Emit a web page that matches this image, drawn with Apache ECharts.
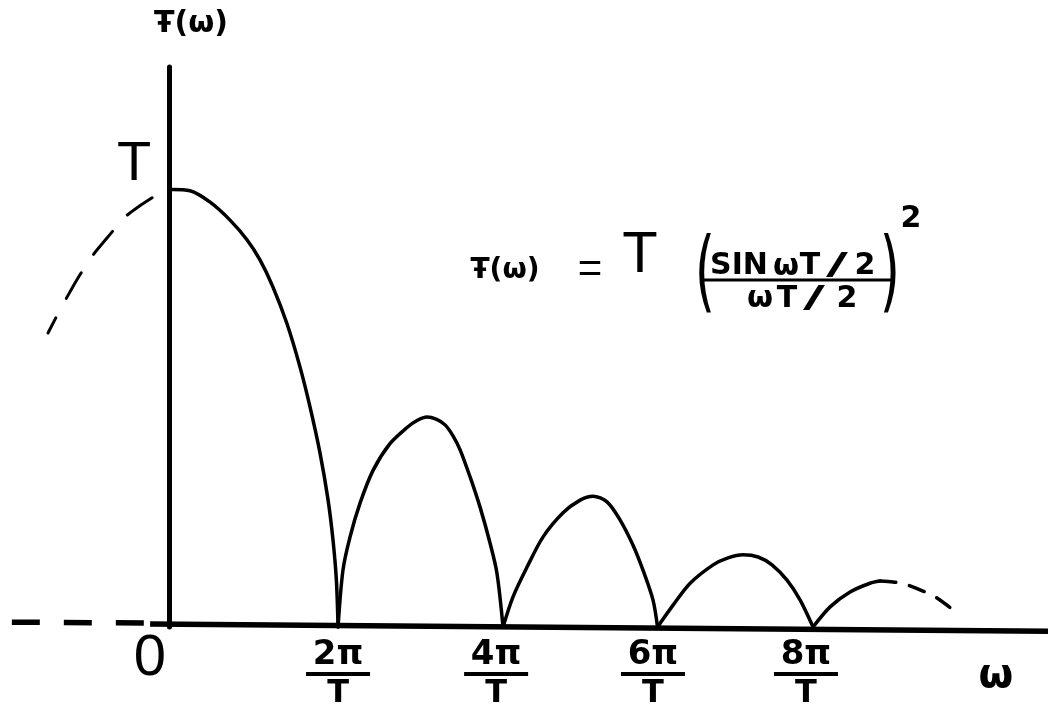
<!DOCTYPE html>
<html>
<head>
<meta charset="utf-8">
<script src="https://cdn.jsdelivr.net/npm/echarts@6/dist/echarts.min.js"></script>
<style>
html,body{margin:0;padding:0;background:#fff;}
#c{width:1048px;height:714px;}
</style>
</head>
<body>
<div id="c"></div>
<script>
// ω in units of 2π/T (as drawn), F(ω) in units of T (as drawn)
const leftDashed = [[-0.10,0.981],[-0.183,0.96],[-0.26,0.937],[-0.367,0.889],[-0.45,0.85],[-0.527,0.805],[-0.586,0.766],[-0.645,0.725],[-0.716,0.672]];
const lobe1 = [[0,1.0],[0.018,1.0],[0.124,0.997],[0.243,0.971],[0.361,0.93],[0.461,0.885],[0.538,0.839],[0.615,0.777],[0.698,0.693],[0.775,0.594],[0.834,0.503],[0.893,0.398],[0.941,0.29],[0.97,0.199],[0.99,0.107],[1.0,0]];
const lobe2 = [[1.0,0],[1.029,0.13],[1.071,0.206],[1.13,0.283],[1.207,0.358],[1.307,0.419],[1.408,0.456],[1.467,0.472],[1.526,0.48],[1.58,0.475],[1.633,0.462],[1.68,0.437],[1.722,0.405],[1.781,0.343],[1.84,0.274],[1.899,0.192],[1.94,0.123],[1.976,0]];
const lobe3 = [[1.976,0],[2.035,0.069],[2.118,0.137],[2.213,0.206],[2.331,0.261],[2.432,0.29],[2.508,0.299],[2.591,0.286],[2.668,0.245],[2.745,0.187],[2.804,0.13],[2.863,0.062],[2.89,0]];
const lobe4 = [[2.89,0],[2.982,0.05],[3.083,0.1],[3.219,0.142],[3.307,0.158],[3.396,0.165],[3.485,0.16],[3.567,0.142],[3.656,0.107],[3.733,0.062],[3.81,0]];
const lobe5Solid = [[3.81,0],[3.911,0.046],[4.029,0.08],[4.147,0.1],[4.206,0.105]];
const lobe5Dashed = [[4.206,0.105],[4.283,0.103],[4.354,0.098],[4.443,0.085],[4.532,0.069],[4.632,0.041]];
const baselineSolid = [[-0.112,0.007],[5.2,-0.01]];
const baselineDashed = [[-0.93,0.011],[-0.14,0.009]];
const tickNumerators = ['2π','4π','6π','8π'];
const tickPositions = [1.0, 1.935, 2.863, 3.768];
const tickDenominator = 'T';
const yTopLabel = 'T';
const originLabel = '0';
const yAxisName = 'Ŧ(ω)';
const xAxisName = 'ω';

const chart = echarts.init(document.getElementById('c'), null, {renderer:'canvas'});
const ink = '#000';
function lineSeries(data, dashed, width, cap){
  return {type:'line', data:data, showSymbol:false, symbol:'none', clip:false, smooth:0.3,
    lineStyle:{color:ink, width:width||3.5, type: dashed||'solid', cap:cap||'round'}, silent:true, z:3};
}
const series = [
  Object.assign(lineSeries(baselineSolid,'solid',5.5,'butt'),{smooth:false}),
  Object.assign(lineSeries(baselineDashed,[28,24],5.5,'butt'),{smooth:false}),
  lineSeries(leftDashed,[30,22],3),
  lineSeries(lobe1),
  lineSeries(lobe2),
  lineSeries(lobe3),
  lineSeries(lobe4),
  lineSeries(lobe5Solid),
  lineSeries(lobe5Dashed,[16,14],3.5),
  {type:'scatter', symbolSize:0.1, itemStyle:{color:'rgba(0,0,0,0)', opacity:1}, silent:true,
   data: tickPositions.map((x,i)=>({value:[x,0], name:tickNumerators[i]})),
   label:{show:true, position:'bottom', distance:13, opacity:1,
     formatter: p => '{n|' + p.name + '}\n{bar| }\n{d|' + tickDenominator + '}',
     rich:{
       n:{fontFamily:'DejaVu Sans', fontWeight:'bold', fontSize:34, lineHeight:30, color:ink, align:'center'},
       bar:{width:64, height:4, lineHeight:8, backgroundColor:ink, align:'center'},
       d:{fontFamily:'DejaVu Sans', fontWeight:'bold', fontSize:32, lineHeight:32, color:ink, align:'center'}
     }}
  }
];

const txt = (x,y,text,font,extra) => Object.assign({type:'text', x:x, y:y,
  style:{text:text, fill:ink, font:font, align:'center', verticalAlign:'middle'}}, extra||{});
const B30 = 'bold 30px "DejaVu Sans"';

chart.setOption({
  animation:false,
  backgroundColor:'#fff',
  grid:{left:0, right:0, top:67, bottom:87},
  xAxis:{type:'value', min:-1, max:5.2, axisLine:{show:false}, axisTick:{show:false}, axisLabel:{show:false}, splitLine:{show:false}},
  yAxis:{type:'value', min:0, max:1.28, axisLine:{show:true, onZero:true, lineStyle:{color:ink, width:5}},
    axisTick:{show:false}, axisLabel:{show:false}, splitLine:{show:false},
    name:yAxisName, nameLocation:'end', nameGap:28,
    nameTextStyle:{fontFamily:'DejaVu Sans', fontWeight:'bold', fontSize:30, color:ink, align:'center', padding:[0,0,0,44]}},
  series:series,
  graphic:[
    txt(134,165,yTopLabel,'normal 56px "Liberation Sans"'),
    txt(150,659,originLabel,'normal 58px "Liberation Sans"'),
    txt(996,677,xAxisName,'bold 40px "DejaVu Sans"'),
    // formula
    txt(505,271,'Ŧ(ω)','bold 28px "DejaVu Sans"'),
    txt(590,270,'=','normal 42px "Liberation Sans"'),
    txt(640,256,'T','normal 58px "Liberation Sans"'),
    txt(705,278,'(','normal 52px "DejaVu Sans"',{scaleY:1.7}),
    txt(890,278,')','normal 52px "DejaVu Sans"',{scaleY:1.7}),
    txt(739,266,'SIN',B30),
    txt(786,267,'ω',B30),
    txt(810,266,'T',B30),
    txt(837,266,'/',B30,{scaleX:2.0}),
    txt(865,266,'2',B30),
    {type:'line', shape:{x1:703,y1:280,x2:893,y2:280}, style:{stroke:ink, lineWidth:3}},
    txt(760,299,'ω',B30),
    txt(787,299,'T',B30),
    txt(814,299,'/',B30,{scaleX:2.0}),
    txt(847,299,'2',B30),
    txt(911,219,'2',B30)
  ]
});
</script>
</body>
</html>
